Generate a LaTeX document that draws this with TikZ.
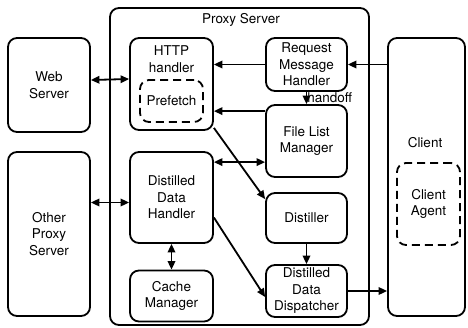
\documentclass[tikz,border=0pt]{standalone}
\usepackage{fontspec}
\setmainfont{TeX Gyre Heros}
\usetikzlibrary{arrows.meta}

\begin{document}
\begin{tikzpicture}[x=1pt, y=-1pt,
	font=\fontsize{13.5}{16.5}\selectfont,
	box/.style={draw, line width=1.8pt, rounded corners=9pt, align=center, inner sep=0pt},
	dbox/.style={box, dash pattern=on 8pt off 5pt},
	link/.style={line width=1.8pt, -{Triangle[length=8.5pt,width=7.5pt]}},
	dlink/.style={line width=1.8pt, {Triangle[length=8.5pt,width=7.5pt]}-{Triangle[length=8.5pt,width=7.5pt]}}]
	
	\useasboundingbox (0,0) rectangle (468,327);
	
	% Serveur proxy (cadre extérieur)
	\node[box, minimum width=259pt, minimum height=317pt] (proxy) at (239.5,166.5) {};
	\node (proxytitle) at (241,20) {Proxy Server};
	
	% Serveurs à gauche
	\node[box, minimum width=82pt, minimum height=94pt] (web) at (49,85) {Web\\Server};
	\node[box, minimum width=82pt, minimum height=164pt] (other) at (49,234) {Other\\Proxy\\Server};
	
	% Colonne gauche du proxy
	\node[box, minimum width=83pt, minimum height=92pt] (http) at (171.5,84) {};
	\node[align=center] (httptitle) at (171.5,59) {HTTP\\handler};
	\node[dbox, minimum width=63pt, minimum height=42pt] (prefetch) at (171.5,101) {Prefetch};
	\node[box, minimum width=83pt, minimum height=91pt] (ddh) at (171.5,197.5) {Distilled\\Data\\Handler};
	\node[box, minimum width=83pt, minimum height=51pt] (cache) at (171.5,296) {Cache\\Manager};
	
	% Colonne droite du proxy
	\node[box, minimum width=81pt, minimum height=53pt] (rmh) at (306.5,64.5) {Request\\Message\\Handler};
	\node[box, minimum width=81pt, minimum height=72pt] (flm) at (306.5,141) {File List\\Manager};
	\node[box, minimum width=81pt, minimum height=50pt] (distiller) at (306.5,218) {Distiller};
	\node[box, minimum width=81pt, minimum height=52pt] (ddd) at (306.5,291) {Distilled\\Data\\Dispatcher};
	
	% Client
	\node[box, minimum width=77pt, minimum height=278pt] (client) at (426.5,177) {};
	\node (clienttitle) at (425,143) {Client};
	\node[dbox, minimum width=63pt, minimum height=82pt] (agent) at (428.5,204) {Client\\Agent};
	
	% Flèches
	\draw[dlink] ([yshift=5pt]web.east) -- ([yshift=5pt]http.west);
	\draw[dlink] ([yshift=-5pt]ddh.west -| other.east) -- ([yshift=-5pt]ddh.west);
	\draw[link] (rmh.east -| client.west) -- (rmh.east);
	\draw[link] (rmh.west) -- (rmh.west -| http.east);
	\draw[link] (rmh.south) -- (flm.north) node[midway, right, inner sep=0pt] {handoff};
	\draw[link] ([yshift=-7pt]flm.north west) -- ([yshift=-7pt]flm.north west -| http.east);
	\draw[dlink] ([yshift=-11pt]ddh.north east) -- ([yshift=-11pt]ddh.north east -| flm.west);
	\draw[link] ([yshift=3pt]http.south east) -- ([yshift=-7pt]distiller.north west);
	\draw[link] ([yshift=-20pt]ddh.east) -- ([yshift=-6pt]ddd.west);
	\draw[link] (distiller.south) -- (ddd.north);
	\draw[link] (ddd.east) -- (ddd.east -| client.west);
	\draw[dlink] (ddh.south) -- (cache.north);
	
\end{tikzpicture}
\end{document}
